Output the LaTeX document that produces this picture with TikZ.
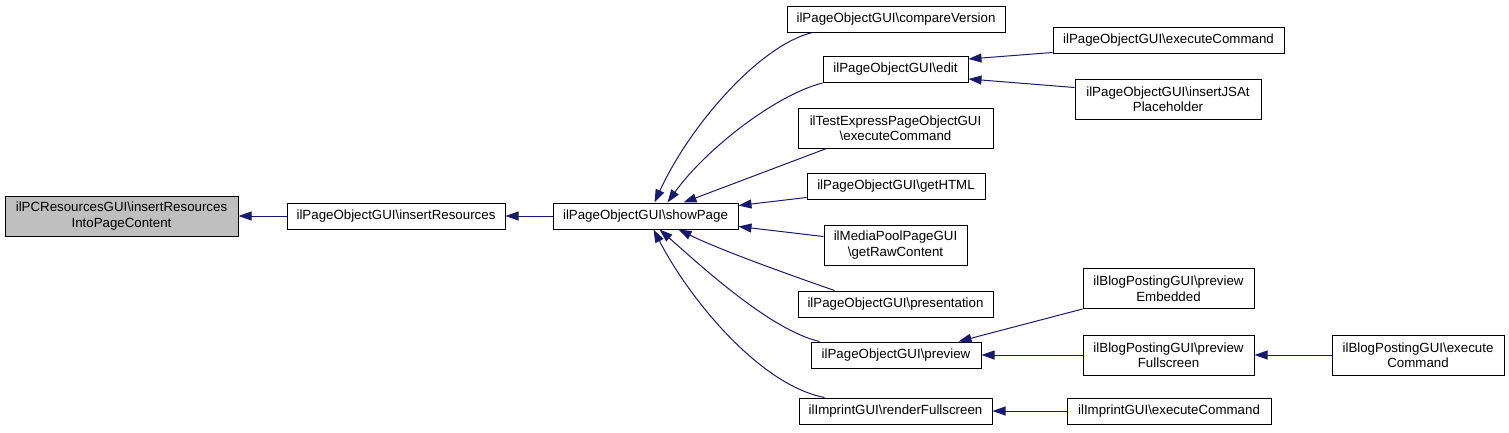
\documentclass[tikz,border=0pt]{standalone}
\usepackage{fontspec}
\setmainfont{Liberation Sans}
\usetikzlibrary{arrows.meta}
\definecolor{edgeblue}{HTML}{191970}
\definecolor{fngray}{HTML}{BFBFBF}
\newcommand{\bs}{\textbackslash}

\begin{document}
\begin{tikzpicture}[x=1pt, y=-1pt,
    fn/.style={draw=black, line width=1pt, inner sep=0pt, align=center,
               minimum height=26pt, font=\fontsize{13.3}{15.5}\selectfont},
    tall/.style={minimum height=40pt},
    call/.style={<-, >={Triangle[length=13pt,width=9pt]}, draw=edgeblue,
                 fill=none, line width=1pt}]
            \useasboundingbox (0,0) rectangle (1509,432);

            \node[fn, tall, fill=fngray, minimum width=233pt] (res) at (121.5,216) {ilPCResourcesGUI\bs insertResources\\IntoPageContent};
            \node[fn, minimum width=218pt] (ins) at (396,216) {ilPageObjectGUI\bs insertResources};
            \node[fn, minimum width=185pt] (show) at (645.5,216) {ilPageObjectGUI\bs showPage};

            \node[fn, minimum width=218pt] (cmp) at (896,19) {ilPageObjectGUI\bs compareVersion};
            \node[fn, minimum width=145pt] (edit) at (895.5,69.5) {ilPageObjectGUI\bs edit};
            \node[fn, tall, minimum width=195pt] (tex) at (895.5,128) {ilTestExpressPageObjectGUI\\\bs executeCommand};
            \node[fn, minimum width=178pt] (html) at (896,186) {ilPageObjectGUI\bs getHTML};
            \node[fn, tall, minimum width=143pt] (raw) at (895.5,245) {ilMediaPoolPageGUI\\\bs getRawContent};
            \node[fn, minimum width=195pt] (pres) at (895.5,304) {ilPageObjectGUI\bs presentation};
            \node[fn, minimum width=170pt] (prev) at (896,355) {ilPageObjectGUI\bs preview};
            \node[fn, minimum width=193pt] (rfull) at (895.5,411) {ilImprintGUI\bs renderFullscreen};

            \node[fn, minimum width=231pt] (pexec) at (1168.5,40) {ilPageObjectGUI\bs executeCommand};
            \node[fn, tall, minimum width=186pt] (jsat) at (1168,99) {ilPageObjectGUI\bs insertJSAt\\Placeholder};
            \node[fn, tall, minimum width=171pt] (pemb) at (1168.5,288.5) {ilBlogPostingGUI\bs preview\\Embedded};
            \node[fn, tall, minimum width=171pt] (pfull) at (1168.5,355) {ilBlogPostingGUI\bs preview\\Fullscreen};
            \node[fn, minimum width=204pt] (iexec) at (1169,411) {ilImprintGUI\bs executeCommand};
            \node[fn, tall, minimum width=172pt] (bexec) at (1418,355) {ilBlogPostingGUI\bs execute\\Command};

            % callers point back to the callee
            \draw[call] (res) -- (ins);
            \draw[call] (ins) -- (show);
            \draw[call] ([xshift=9pt]show.north) .. controls (690,125) and (760,45) .. ([xshift=26pt]cmp.south west);
            \draw[call] ([xshift=22pt]show.north) .. controls (705,150) and (775,95) .. (edit.south west);
            \draw[call] ([xshift=38pt]show.north) -- ([xshift=29pt]tex.south west);
            \draw[call] ([yshift=-3pt]show.north east) -- ([yshift=2pt]html.south west);
            \draw[call] ([yshift=3pt]show.south east) -- ([yshift=-12pt]raw.north west);
            \draw[call] ([xshift=33pt]show.south) .. controls (720,250) and (790,275) .. ([xshift=37pt]pres.north west);
            \draw[call] ([xshift=14pt]show.south) .. controls (700,265) and (770,330) .. ([xshift=9pt]prev.north west);
            \draw[call] ([xshift=8pt]show.south) .. controls (690,300) and (760,385) .. ([xshift=26pt]rfull.north west);

            \draw[call] ([yshift=-3pt]edit.north east) -- ([yshift=1pt]pexec.south west);
            \draw[call] ([yshift=4pt]edit.south east) -- ([yshift=-9pt]jsat.north west);
            \draw[call] ([xshift=-23pt]prev.north east) -- (pemb.south west);
            \draw[call] (prev) -- (pfull);
            \draw[call] (pfull) -- (bexec);
            \draw[call] (rfull) -- (iexec);

        \end{tikzpicture}
\end{document}
